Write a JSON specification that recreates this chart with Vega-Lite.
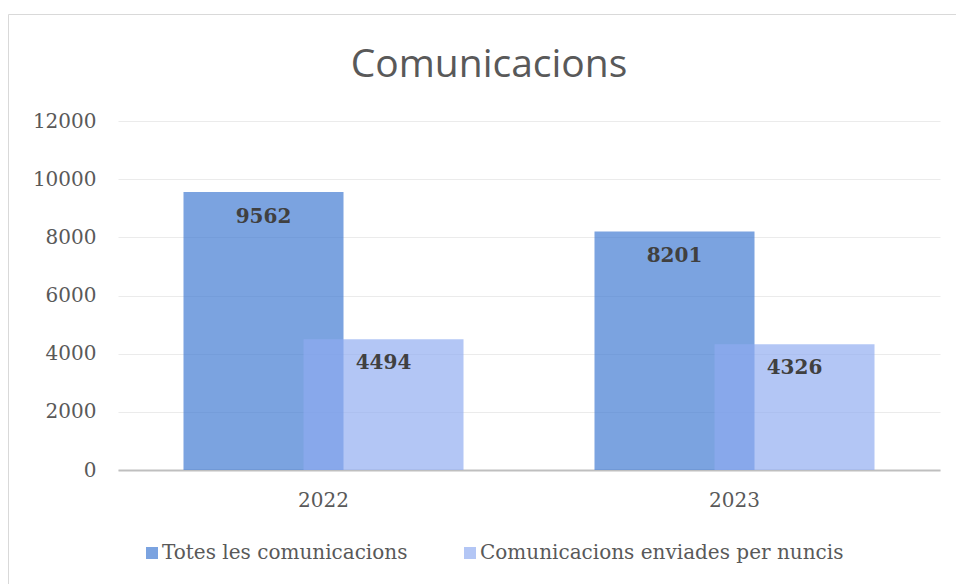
{
  "$schema": "https://vega.github.io/schema/vega-lite/v6.json",
  "width": 948,
  "height": 570,
  "autosize": {"type": "none"},
  "padding": {"left": 8, "top": 14, "right": 0, "bottom": 0},
  "background": "white",
  "config": {
    "view": {"stroke": "#d9d9d9", "strokeWidth": 1},
    "axis": {"labelFont": "DejaVu Serif", "labelFontSize": 20, "labelColor": "#595959", "ticks": false, "title": null}
  },
  "title": {
    "text": "Comunicacions",
    "font": "Open Sans",
    "fontSize": 39,
    "fontWeight": "normal",
    "color": "#595959",
    "anchor": "middle",
    "baseline": "middle",
    "offset": -90,
    "dx": 7
  },
  "data": {
    "values": [
      {"year": "2022", "series": "Totes les comunicacions", "value": 9562},
      {"year": "2022", "series": "Comunicacions enviades per nuncis", "value": 4494},
      {"year": "2023", "series": "Totes les comunicacions", "value": 8201},
      {"year": "2023", "series": "Comunicacions enviades per nuncis", "value": 4326}
    ]
  },
  "encoding": {
    "x": {
      "field": "year",
      "type": "nominal",
      "scale": {"range": [110, 932], "paddingInner": 0, "paddingOuter": 0},
      "axis": {"labelAngle": 0, "offset": -114, "domainColor": "#bfbfbf", "domainWidth": 2, "labelPadding": 20, "grid": false}
    },
    "y": {
      "field": "value",
      "type": "quantitative",
      "scale": {"domain": [0, 12000], "range": [456, 107], "nice": false},
      "axis": {"values": [0, 2000, 4000, 6000, 8000, 10000, 12000], "format": "d", "offset": -110, "domain": false, "grid": true, "gridColor": "#ebebeb", "gridWidth": 1, "labelPadding": 22}
    }
  },
  "layer": [
    {
      "transform": [{"filter": "datum.series === 'Totes les comunicacions'"}],
      "mark": {"type": "bar", "width": 160, "xOffset": -60, "opacity": 0.68},
      "encoding": {
        "color": {
          "field": "series",
          "type": "nominal",
          "scale": {"domain": ["Totes les comunicacions", "Comunicacions enviades per nuncis"], "range": ["#3c78d1", "#8fabf0"]},
          "legend": {
            "orient": "none",
            "direction": "horizontal",
            "legendX": 134,
            "legendY": 529,
            "title": null,
            "symbolType": "square",
            "symbolSize": 144,
            "symbolOpacity": 0.68,
            "symbolStrokeWidth": 0,
            "labelFont": "DejaVu Serif",
            "labelFontSize": 20,
            "labelColor": "#595959",
            "labelOffset": 0,
            "columnPadding": 52,
            "padding": 0,
            "labelLimit": 500
          }
        }
      }
    },
    {
      "transform": [{"filter": "datum.series === 'Comunicacions enviades per nuncis'"}],
      "mark": {"type": "bar", "width": 160, "xOffset": 60, "opacity": 0.68},
      "encoding": {
        "color": {"field": "series", "type": "nominal"}
      }
    },
    {
      "transform": [{"filter": "datum.series === 'Totes les comunicacions'"}],
      "mark": {"type": "text", "xOffset": -60, "dy": 25, "baseline": "middle", "font": "DejaVu Serif", "fontSize": 20, "fontWeight": "bold", "fill": "#404040"},
      "encoding": {"text": {"field": "value", "type": "quantitative", "format": "d"}}
    },
    {
      "transform": [{"filter": "datum.series === 'Comunicacions enviades per nuncis'"}],
      "mark": {"type": "text", "xOffset": 60, "dy": 24, "baseline": "middle", "font": "DejaVu Serif", "fontSize": 20, "fontWeight": "bold", "fill": "#404040"},
      "encoding": {"text": {"field": "value", "type": "quantitative", "format": "d"}}
    }
  ]
}
